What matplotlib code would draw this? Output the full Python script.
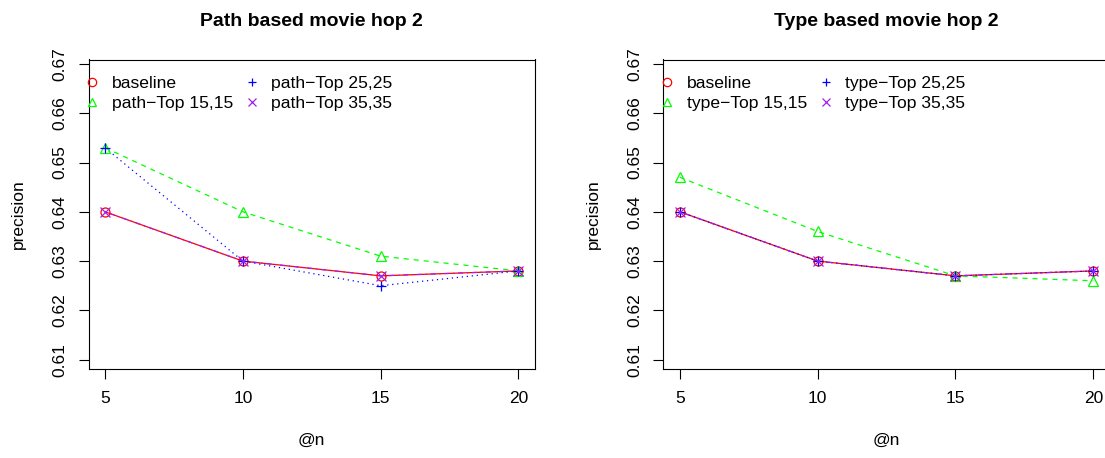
import matplotlib
matplotlib.use('Agg')
import matplotlib.pyplot as plt
from matplotlib.lines import Line2D

plt.rcParams['font.family'] = ['Liberation Sans', 'DejaVu Sans']

n = [5, 10, 15, 20]

# path based
path_baseline = [0.640, 0.630, 0.627, 0.628]
path_top15 = [0.653, 0.640, 0.631, 0.628]
path_top25 = [0.653, 0.630, 0.625, 0.628]
path_top35 = [0.640, 0.630, 0.627, 0.628]

# type based
type_baseline = [0.640, 0.630, 0.627, 0.628]
type_top15 = [0.647, 0.636, 0.627, 0.626]
type_top25 = [0.640, 0.630, 0.627, 0.628]
type_top35 = [0.640, 0.630, 0.627, 0.628]

yticks = [0.61, 0.62, 0.63, 0.64, 0.65, 0.66, 0.67]

colors = ['#FF0000', '#00FF00', '#0000FF', '#A020F0']
markers = ['o', '^', '+', 'x']
styles = ['-', (0, (4, 4)), (0, (1, 3)), (0, (1, 3, 4, 3))]

fig = plt.figure(figsize=(11.05, 4.58), dpi=100)
W, H = 1105.0, 458.0


def panel(x0, title, prefix, series):
    ax = fig.add_axes([x0 / W, 1 - 369 / H, 446.5 / W, 309.5 / H])
    for ys, c, m, ls in zip(series, colors, markers, styles):
        ax.plot(n, ys, color=c, linestyle=ls, linewidth=0.9)
    for ys, c, m, ls in zip(series, colors, markers, styles):
        ax.plot(n, ys, linestyle='none', marker=m, markersize=6.5,
                markerfacecolor='none', markeredgecolor=c, markeredgewidth=0.9)
    ax.set_xlim(4.4, 20.6)
    ax.set_ylim(0.6081, 0.6709)
    ax.set_xticks(n)
    ax.set_xticklabels([str(v) for v in n])
    ax.set_yticks(yticks)
    ax.set_yticklabels(['%.2f' % v for v in yticks], rotation=90, va='center')
    ax.tick_params(direction='out', length=7.5, width=0.8, labelsize=12.5)
    ax.tick_params(axis='x', pad=8.5)
    ax.tick_params(axis='y', pad=7.5)
    for s in ax.spines.values():
        s.set_linewidth(0.8)
    fig.text((x0 + 223) / W, 1 - 22 / H, title, ha='center', va='center',
             fontsize=14, fontweight='bold')
    fig.text((x0 + 223) / W, 1 - 440 / H, '@n', ha='center', va='center', fontsize=12.5)
    fig.text((x0 - 70) / W, 1 - 214 / H, 'precision', ha='center', va='center',
             rotation=90, fontsize=12.5)
    labels = ['baseline', prefix + '\u2212Top 15,15', prefix + '\u2212Top 25,25',
              prefix + '\u2212Top 35,35']
    handles = [Line2D([], [], linestyle='none', marker=m, markersize=6,
                      markerfacecolor='none', markeredgecolor=c, markeredgewidth=0.9)
               for c, m in zip(colors, markers)]
    ax.legend(handles, labels, ncol=2, frameon=False, loc='upper left',
              bbox_to_anchor=(0.003, 1 - 16 / 309.5), borderaxespad=0, borderpad=0,
              handlelength=0.3, handletextpad=0.95, columnspacing=0.95,
              labelspacing=0.3, fontsize=12.6)
    return ax


panel(88.5, 'Path based movie hop 2', 'path',
      [path_baseline, path_top15, path_top25, path_top35])
panel(663.3, 'Type based movie hop 2', 'type',
      [type_baseline, type_top15, type_top25, type_top35])

fig.savefig('out.png', dpi=100)
